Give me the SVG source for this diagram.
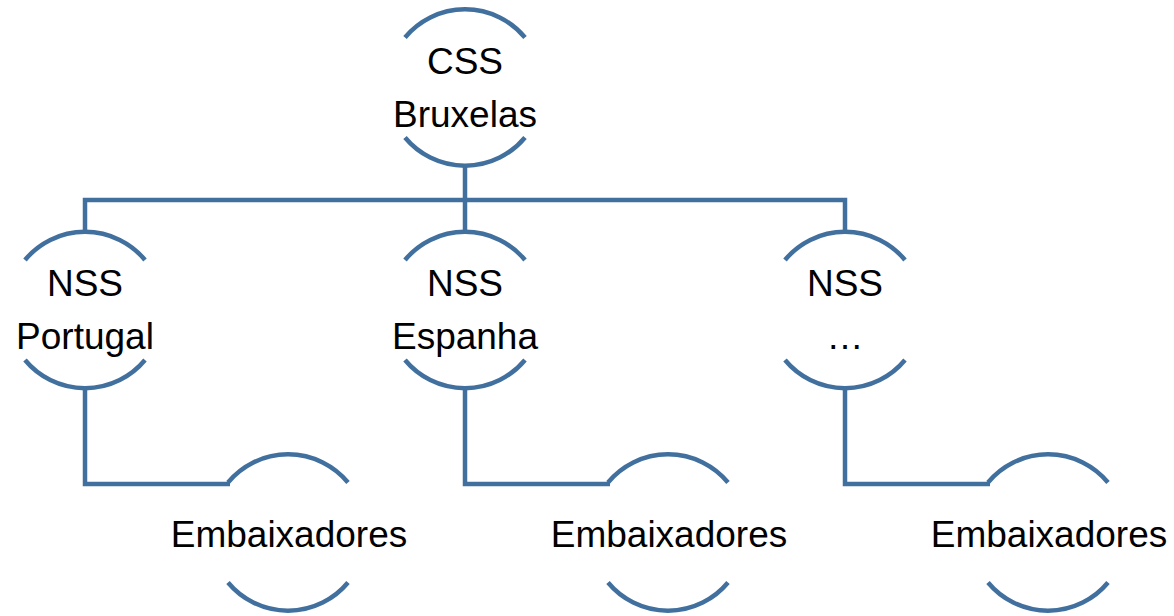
<svg xmlns="http://www.w3.org/2000/svg" width="1174" height="616" viewBox="0 0 1174 616">
<style>
.arc{fill:none;stroke:#41709F;stroke-width:4.5}
.conn{fill:none;stroke:#41709F;stroke-width:4.5;stroke-linejoin:miter}
.t{font-family:"Liberation Sans",Arial,sans-serif;font-size:37px;fill:#000;text-anchor:middle}
</style>
<rect width="1174" height="616" fill="#fff"/>
<g id="connectors">
<path class="conn" d="M465 165 V200 M85 233 V200 H845 V233 M465 200 V233"/>
<path class="conn" d="M85 387 V484 H230"/>
<path class="conn" d="M465 387 V484 H610"/>
<path class="conn" d="M845 387 V484 H990"/>
</g>
<g id="css">
<path class="arc" d="M405 37.5 A78 78 0 0 1 525 37.5 M405 137.5 A78 78 0 0 0 525 137.5"/>
<text class="t" x="465" y="74">CSS</text>
<text class="t" x="465" y="127">Bruxelas</text>
</g>
<g id="nss-portugal">
<path class="arc" d="M25 260 A78 78 0 0 1 145 260 M25 360 A78 78 0 0 0 145 360"/>
<text class="t" x="85" y="296">NSS</text>
<text class="t" x="85" y="349">Portugal</text>
</g>
<g id="nss-espanha">
<path class="arc" d="M405 260 A78 78 0 0 1 525 260 M405 360 A78 78 0 0 0 525 360"/>
<text class="t" x="465" y="296">NSS</text>
<text class="t" x="465" y="349">Espanha</text>
</g>
<g id="nss-other">
<path class="arc" d="M785 260 A78 78 0 0 1 905 260 M785 360 A78 78 0 0 0 905 360"/>
<text class="t" x="845" y="296">NSS</text>
<text class="t" x="845" y="349">…</text>
</g>
<g id="emb-1">
<path class="arc" d="M228 482.5 A78 78 0 0 1 348 482.5 M228 582.5 A78 78 0 0 0 348 582.5"/>
<text class="t" x="289" y="547">Embaixadores</text>
</g>
<g id="emb-2">
<path class="arc" d="M608 482.5 A78 78 0 0 1 728 482.5 M608 582.5 A78 78 0 0 0 728 582.5"/>
<text class="t" x="669" y="547">Embaixadores</text>
</g>
<g id="emb-3">
<path class="arc" d="M988 482.5 A78 78 0 0 1 1108 482.5 M988 582.5 A78 78 0 0 0 1108 582.5"/>
<text class="t" x="1049" y="547">Embaixadores</text>
</g>
</svg>
